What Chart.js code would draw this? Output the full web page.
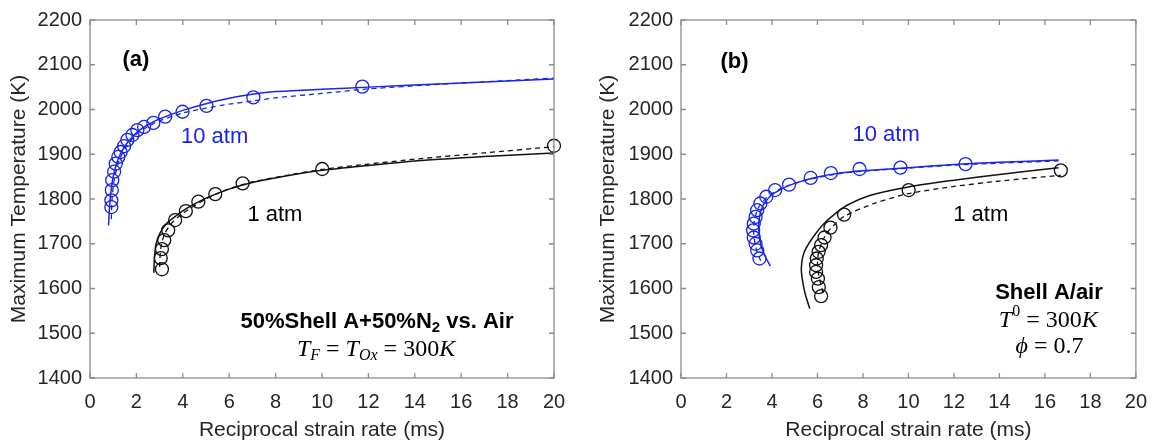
<!DOCTYPE html>
<html>
<head>
<meta charset="utf-8">
<script src="https://cdn.jsdelivr.net/npm/chart.js@4.4.1/dist/chart.umd.min.js"></script>
<style>
  body { margin: 0; background: #fff; }
  #wrap { position: relative; width: 1159px; height: 441px; }
  #chartA { position: absolute; left: 0; top: 0; }
  #chartB { position: absolute; left: 580px; top: 0; }
</style>
</head>
<body>
<div id="wrap">
  <canvas id="chartA" width="580" height="441"></canvas>
  <canvas id="chartB" width="579" height="441"></canvas>
</div>
<script>
// axis ranges / tick labels
const xMin = 0, xMax = 20, xStep = 2;
const yMin = 1400, yMax = 2200, yStep = 100;
const xTitle = 'Reciprocal strain rate (ms)';
const yTitle = 'Maximum Temperature (K)';

// panel (a): 50%Shell A + 50%N2 vs. Air   [reciprocal strain rate ms, T max K]
const a10Exp = [[11.74,2051],[7.04,2027],[5.02,2008],[3.99,1995],[3.24,1984],[2.73,1970],[2.33,1961],[2.04,1954],[1.83,1943],[1.61,1932],[1.47,1918],[1.32,1905],[1.22,1894],[1.11,1879],[1.04,1861],[0.96,1842],[0.94,1820],[0.92,1797],[0.92,1782]];
const a10Solid = [[0.80,1741],[0.84,1780],[0.9,1815],[1.0,1850],[1.15,1880],[1.35,1905],[1.6,1925],[2.0,1948],[2.5,1966],[3.0,1979],[4.0,1998],[5.0,2013],[6.0,2025],[7.0,2034],[8.0,2040],[10,2045],[12,2050],[15,2057],[20,2068]];
const a10Dash = [[0.92,1755],[0.95,1800],[1.05,1845],[1.25,1885],[1.5,1912],[2.0,1945],[2.5,1962],[3.0,1975],[4.0,1992],[5.0,2003],[6.0,2012],[7.0,2019],[8.0,2026],[10,2036],[12,2046],[15,2056],[20,2070]];
const a1Exp = [[20,1919],[10.01,1867],[6.58,1835],[5.40,1811],[4.67,1794],[4.13,1773],[3.67,1753],[3.37,1730],[3.20,1708],[3.10,1688],[3.05,1668],[3.10,1643]];
const a1Solid = [[2.75,1635],[2.78,1670],[2.85,1700],[3.0,1722],[3.3,1745],[3.7,1762],[4.2,1780],[5.0,1802],[6.0,1822],[7.0,1837],[8.5,1852],[10,1864],[12,1875],[14,1885],[17,1895],[20,1903]];
const a1Dash = [[3.0,1648],[3.05,1690],[3.2,1720],[3.5,1745],[4.0,1768],[5.0,1800],[6.0,1823],[7.0,1838],[8.5,1853],[10,1866],[12,1878],[14,1889],[17,1903],[20,1917]];

// panel (b): Shell A/air
const b10Exp = [[12.51,1878],[9.65,1870],[7.85,1867],[6.59,1858],[5.70,1847],[4.75,1832],[4.14,1820],[3.75,1805],[3.49,1790],[3.35,1775],[3.28,1760],[3.20,1745],[3.17,1730],[3.20,1714],[3.28,1700],[3.35,1685],[3.45,1667]];
const b10Solid = [[3.93,1650],[3.7,1672],[3.5,1700],[3.42,1730],[3.45,1760],[3.6,1785],[3.9,1805],[4.4,1822],[5.0,1835],[6.0,1849],[7.0,1858],[8.0,1863],[10,1870],[12,1877],[14,1882],[16.6,1887]];
const b10Dash = [[3.5,1662],[3.3,1690],[3.2,1720],[3.22,1750],[3.4,1780],[3.8,1805],[4.5,1826],[5.5,1842],[7.0,1857],[8.5,1864],[10,1869],[12.5,1877],[16.6,1885]];
const b1Exp = [[16.70,1864],[10.01,1820],[7.17,1765],[6.57,1736],[6.31,1714],[6.16,1697],[6.05,1682],[5.97,1667],[5.94,1652],[5.94,1637],[6.02,1622],[6.06,1603],[6.16,1583]];
const b1Solid = [[5.66,1555],[5.45,1590],[5.32,1625],[5.29,1645],[5.35,1670],[5.5,1690],[5.85,1718],[6.3,1746],[6.8,1768],[7.3,1786],[8.3,1808],[10,1827],[12,1842],[14,1855],[16.6,1870]];
const b1Dash = [[6.25,1590],[6.1,1620],[6.0,1650],[6.05,1680],[6.25,1710],[6.6,1735],[7.2,1762],[8.5,1790],[10,1812],[12,1828],[14,1840],[16.7,1853]];

const blue = 'rgb(24,36,232)';
const black = '#111111';
const sans = '"Liberation Sans", Arial, sans-serif';
const serif = '"Liberation Serif", "Times New Roman", serif';

function pts(pairs) {
    return pairs.map(p => ({ x: p[0], y: p[1] }));
}

function expSet(pairs, color) {
    return {
        data: pts(pairs), showLine: false, clip: false,
        pointStyle: 'circle', pointRadius: 6.5, pointBorderWidth: 1.3,
        pointBorderColor: color, pointBackgroundColor: 'rgba(0,0,0,0)'
    };
}

function lineSet(pairs, color, dashed) {
    return {
        data: pts(pairs), showLine: true, pointRadius: 0,
        borderColor: color, borderWidth: dashed ? 1.3 : 1.5,
        borderDash: dashed ? [5, 4] : [], tension: 0.25
    };
}

// box with inward ticks on all four sides
const framePlugin = {
    id: 'frame',
    afterDatasetsDraw(chart) {
        const { ctx, chartArea: a } = chart;
        const xs = chart.scales.x, ys = chart.scales.y;
        const len = 5;
        ctx.save();
        ctx.strokeStyle = '#8c8c8c';
        ctx.lineWidth = 1.3;
        ctx.strokeRect(a.left, a.top, a.right - a.left, a.bottom - a.top);
        ctx.beginPath();
        xs.ticks.forEach(t => {
            const px = xs.getPixelForValue(t.value);
            ctx.moveTo(px, a.bottom); ctx.lineTo(px, a.bottom - len);
            ctx.moveTo(px, a.top); ctx.lineTo(px, a.top + len);
        });
        ys.ticks.forEach(t => {
            const py = ys.getPixelForValue(t.value);
            ctx.moveTo(a.left, py); ctx.lineTo(a.left + len, py);
            ctx.moveTo(a.right, py); ctx.lineTo(a.right - len, py);
        });
        ctx.stroke();
        ctx.restore();
    }
};

// text notes placed in data coordinates
const notesPlugin = {
    id: 'notes',
    afterDraw(chart, args, opts) {
        const ctx = chart.ctx;
        const xs = chart.scales.x, ys = chart.scales.y;
        ctx.save();
        ctx.textBaseline = 'middle';
        ctx.textAlign = 'left';
        (opts.items || []).forEach(item => {
            let w = 0;
            item.parts.forEach(p => { ctx.font = p.font; w += ctx.measureText(p.text).width; });
            let px = xs.getPixelForValue(item.x) - w / 2;
            const py = ys.getPixelForValue(item.y);
            item.parts.forEach(p => {
                ctx.font = p.font;
                ctx.fillStyle = p.color || '#000';
                ctx.fillText(p.text, px, py + (p.dy || 0));
                px += ctx.measureText(p.text).width;
            });
        });
        ctx.restore();
    }
};

const big = '22px ' + sans;
const bold = 'bold 22px ' + sans;
const mathIt = 'italic 24px ' + serif;
const mathUp = '24px ' + serif;
const mathSub = 'italic 16px ' + serif;

const notesA = [
    { x: 1.98, y: 2110, parts: [{ text: '(a)', font: bold }] },
    { x: 5.37, y: 1939, parts: [{ text: '10 atm', font: big, color: blue }] },
    { x: 7.97, y: 1764, parts: [{ text: '1 atm', font: big }] },
    { x: 12.37, y: 1526, parts: [
        { text: '50%Shell A+50%N', font: bold },
        { text: '2', font: 'bold 15px ' + sans, dy: 6 },
        { text: ' vs. Air', font: bold }] },
    { x: 12.33, y: 1463, parts: [
        { text: 'T', font: mathIt }, { text: 'F', font: mathSub, dy: 6 },
        { text: ' = ', font: mathUp },
        { text: 'T', font: mathIt }, { text: 'Ox', font: mathSub, dy: 6 },
        { text: ' = 300', font: mathUp }, { text: 'K', font: mathIt }] }
];

const notesB = [
    { x: 2.35, y: 2106, parts: [{ text: '(b)', font: bold }] },
    { x: 9.02, y: 1943, parts: [{ text: '10 atm', font: big, color: blue }] },
    { x: 13.18, y: 1764, parts: [{ text: '1 atm', font: big }] },
    { x: 16.18, y: 1591, parts: [{ text: 'Shell A/air', font: bold }] },
    { x: 16.15, y: 1529, parts: [
        { text: 'T', font: mathIt }, { text: '0', font: '16px ' + serif, dy: -8 },
        { text: ' = 300', font: mathUp }, { text: 'K', font: mathIt }] },
    { x: 16.2, y: 1471, parts: [
        { text: '\u03D5', font: mathIt }, { text: ' = 0.7', font: mathUp }] }
];

function makeChart(id, sets, notes, yWidth, rightPad, yTitlePad) {
    const ctx = document.getElementById(id).getContext('2d');
    return new Chart(ctx, {
        type: 'scatter',
        data: { datasets: sets },
        options: {
            responsive: false,
            animation: false,
            layout: { padding: { left: 0, right: rightPad, top: 20, bottom: 0 } },
            plugins: {
                legend: { display: false },
                tooltip: { enabled: false },
                notes: { items: notes }
            },
            scales: {
                x: {
                    type: 'linear', min: xMin, max: xMax,
                    grid: { display: false, drawTicks: false },
                    border: { display: false },
                    ticks: { stepSize: xStep, padding: 12, color: '#262626', font: { size: 20, family: sans },
                             callback: v => String(v) },
                    title: { display: true, text: xTitle, color: '#262626', padding: 0,
                             font: { size: 21, family: sans, lineHeight: 1 } },
                    afterFit: s => { s.height = 63; }
                },
                y: {
                    type: 'linear', min: yMin, max: yMax,
                    grid: { display: false, drawTicks: false },
                    border: { display: false },
                    ticks: { stepSize: yStep, padding: 8, color: '#262626', font: { size: 20, family: sans },
                             callback: v => String(v) },
                    title: { display: true, text: yTitle, color: '#262626', padding: { top: yTitlePad, bottom: 0 },
                             font: { size: 21, family: sans, lineHeight: 1 } },
                    afterFit: s => { s.width = yWidth; }
                }
            }
        },
        plugins: [framePlugin, notesPlugin]
    });
}

makeChart('chartA', [
    lineSet(a10Solid, blue, false), lineSet(a10Dash, blue, true), expSet(a10Exp, blue),
    lineSet(a1Solid, black, false), lineSet(a1Dash, black, true), expSet(a1Exp, black)
], notesA, 90, 26, 9);

makeChart('chartB', [
    lineSet(b10Solid, blue, false), lineSet(b10Dash, blue, true), expSet(b10Exp, blue),
    lineSet(b1Solid, black, false), lineSet(b1Dash, black, true), expSet(b1Exp, black)
], notesB, 101, 14, 18);
</script>
</body>
</html>
